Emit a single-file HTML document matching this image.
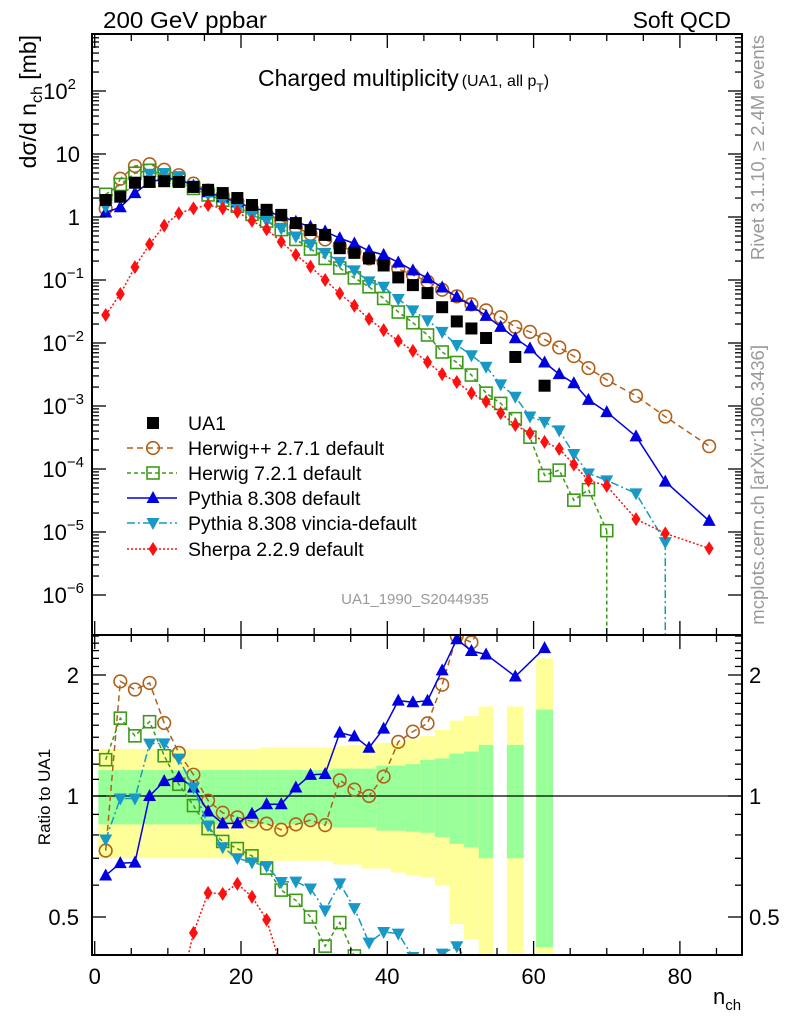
<!DOCTYPE html>
<html><head><meta charset="utf-8"><style>
html,body{margin:0;padding:0;background:#fff;width:786px;height:1024px;overflow:hidden}
svg{display:block;font-family:"Liberation Sans",sans-serif}
</style></head><body>
<svg id="chart" width="786" height="1024" viewBox="0 0 786 1024" xmlns="http://www.w3.org/2000/svg">
<defs>
<clipPath id="clipMain"><rect x="92" y="34" width="650" height="601"/></clipPath>
<clipPath id="clipRatio"><rect x="92" y="635" width="650" height="320"/></clipPath>
</defs>
<text x="103" y="28" font-size="23" textLength="164" lengthAdjust="spacingAndGlyphs">200 GeV ppbar</text>
<text x="731" y="28" font-size="23" text-anchor="end">Soft QCD</text>
<text x="258" y="86" font-size="23">Charged multiplicity<tspan font-size="16" dx="3">(UA1, all p</tspan><tspan font-size="12" dy="6">T</tspan><tspan font-size="16" dy="-6">)</tspan></text>
<text transform="translate(36,35) rotate(-90)" font-size="23" text-anchor="end">dσ/d n<tspan font-size="16" dy="6">ch</tspan><tspan dy="-6"> [mb]</tspan></text>
<text transform="translate(764,35) rotate(-90)" font-size="18.5" fill="#999" text-anchor="end">Rivet 3.1.10, ≥ 2.4M events</text>
<text transform="translate(764,345) rotate(-90)" font-size="18.5" fill="#999" text-anchor="end">mcplots.cern.ch [arXiv:1306.3436]</text>
<text x="415" y="604" font-size="15" fill="#999" text-anchor="middle">UA1_1990_S2044935</text>
<text transform="translate(50,797) rotate(-90)" font-size="17" text-anchor="middle">Ratio to UA1</text>
<text x="713" y="1004" font-size="22">n<tspan font-size="15" dy="6">ch</tspan></text>
<g id="bands" clip-path="url(#clipRatio)"></g>
<g id="mainMarks" clip-path="url(#clipMain)"></g>
<g id="ratioMarks" clip-path="url(#clipRatio)"></g>
<g id="axes"></g>
<g id="legend"></g>
</svg>
<script>
// ---- data ----
const ua1X = [1.5,3.5,5.5,7.5,9.5,11.5,13.5,15.5,17.5,19.5,21.5,23.5,25.5,27.5,29.5,31.5,33.5,35.5,37.5,39.5,41.5,43.5,45.5,47.5,49.5,51.5,53.5,57.5,61.5];
const ua1Y = [1.86,2.1,3.5,3.6,3.7,3.6,3.0,2.7,2.4,2.0,1.55,1.3,1.08,0.8,0.62,0.52,0.32,0.27,0.22,0.17,0.11,0.083,0.062,0.037,0.022,0.017,0.012,0.006,0.0021];
const totUp = [1.31,1.31,1.31,1.31,1.31,1.31,1.31,1.31,1.31,1.31,1.31,1.32,1.32,1.32,1.32,1.32,1.33,1.34,1.345,1.355,1.36,1.38,1.41,1.46,1.54,1.58,1.67,1.67,2.2];
const totDn = [0.70,0.70,0.70,0.70,0.70,0.70,0.70,0.70,0.70,0.70,0.70,0.69,0.69,0.69,0.69,0.69,0.675,0.675,0.66,0.66,0.645,0.635,0.626,0.60,0.48,0.44,0.35,0.35,0.405];
const statUp = [1.16,1.16,1.16,1.16,1.16,1.16,1.16,1.16,1.16,1.16,1.16,1.16,1.16,1.16,1.16,1.16,1.17,1.17,1.17,1.19,1.19,1.20,1.23,1.24,1.275,1.29,1.34,1.34,1.64];
const statDn = [0.85,0.85,0.85,0.85,0.85,0.85,0.85,0.85,0.85,0.85,0.85,0.85,0.85,0.85,0.85,0.85,0.835,0.835,0.835,0.82,0.82,0.815,0.81,0.79,0.76,0.745,0.70,0.70,0.42];
const mcX = [1.5,3.5,5.5,7.5,9.5,11.5,13.5,15.5,17.5,19.5,21.5,23.5,25.5,27.5,29.5,31.5,33.5,35.5,37.5,39.5,41.5,43.5,45.5,47.5,49.5,51.5,53.5,55.5,57.5,59.5,61.5,63.5,65.5,67.5,70,74,78,84];
const herwigppY = [1.36,4.05,6.44,6.88,5.62,4.61,3.39,2.63,2.18,1.77,1.34,1.11,0.89,0.68,0.54,0.44,0.35,0.28,0.22,0.19,0.15,0.12,0.094,0.070,0.055,0.041,0.033,0.0256,0.018,0.015,0.0114,0.0085,0.0062,0.0040,0.0026,0.00145,0.00068,0.00023];
const herwig7Y = [2.29,3.28,4.94,5.51,4.66,3.85,2.84,2.24,1.85,1.48,1.10,0.86,0.63,0.44,0.31,0.22,0.155,0.108,0.078,0.051,0.031,0.021,0.0134,0.0072,0.0049,0.0031,0.0016,0.0011,0.00063,0.00032,7.9e-5,9.6e-5,3.2e-5,4.7e-5,1.05e-5];
const pythiaY = [1.18,1.43,2.39,3.6,4.03,4.01,3.15,2.47,2.05,1.71,1.40,1.24,1.03,0.84,0.70,0.59,0.46,0.38,0.29,0.25,0.19,0.142,0.107,0.076,0.054,0.039,0.027,0.018,0.0119,0.0082,0.0049,0.0032,0.0023,0.00125,0.00080,0.00033,6.3e-5,1.5e-5];
const vinciaY = [1.45,2.07,3.45,4.86,5.0,4.46,3.15,2.28,1.79,1.40,1.06,0.87,0.66,0.49,0.365,0.27,0.194,0.142,0.095,0.078,0.050,0.033,0.023,0.015,0.0093,0.0064,0.0042,0.0022,0.0014,0.00068,0.00056,0.00041,0.000173,8.5e-5,6.6e-5,4.1e-5,6.9e-6];
const sherpaY = [0.0278,0.06,0.16,0.37,0.73,1.14,1.37,1.55,1.37,1.21,0.87,0.64,0.405,0.25,0.163,0.1,0.061,0.039,0.024,0.016,0.0108,0.0075,0.0050,0.0032,0.0024,0.0016,0.00118,0.00077,0.00050,0.00037,0.00027,0.000209,0.000118,6.6e-5,5.4e-5,1.6e-5,9.5e-6,5.5e-6];
const xTicks = [0,20,40,60,80];
const yDecades = [-6,-5,-4,-3,-2,-1,0,1,2];
const ratioTicks = [0.5,1,2];

// ---- scales ----
const NS="http://www.w3.org/2000/svg";
const L=92,R=742,MT=34,MB=635,RB=955;
const xp = v => 94.7 + 7.315*v;
const ym = v => 217 - 63*Math.log10(v);
const yr = r => 796 - 121*Math.log2(r);
function mk(tag, attrs, parent){const e=document.createElementNS(NS,tag);for(const k in attrs)e.setAttribute(k,attrs[k]);parent.appendChild(e);return e;}

const series = [
 {key:'herwigpp', y:herwigppY, color:'#b0601a', dash:'6,4', marker:'circle', label:'Herwig++ 2.7.1 default'},
 {key:'herwig7', y:herwig7Y, color:'#3d9a18', dash:'4,3', marker:'square', label:'Herwig 7.2.1 default', drop:true},
 {key:'pythia', y:pythiaY, color:'#0000e0', dash:'', marker:'up', label:'Pythia 8.308 default'},
 {key:'vincia', y:vinciaY, color:'#1898c4', dash:'8,3,2,3', marker:'down', label:'Pythia 8.308 vincia-default', drop:true},
 {key:'sherpa', y:sherpaY, color:'#ff1010', dash:'2,2', marker:'diamond', label:'Sherpa 2.2.9 default'}
];

function marker(g, type, cx, cy, color){
  let e;
  if(type==='circle') e=mk('circle',{cx:cx,cy:cy,r:6.3,fill:'none',stroke:color,'stroke-width':1.6},g);
  else if(type==='square') e=mk('rect',{x:cx-6,y:cy-6,width:12,height:12,fill:'none',stroke:color,'stroke-width':1.6},g);
  else if(type==='up') e=mk('polygon',{points:`${cx-6.5},${cy+5} ${cx+6.5},${cy+5} ${cx},${cy-7}`,fill:color},g);
  else if(type==='down') e=mk('polygon',{points:`${cx-6.5},${cy-5} ${cx+6.5},${cy-5} ${cx},${cy+7}`,fill:color},g);
  else if(type==='diamond') e=mk('polygon',{points:`${cx},${cy-7} ${cx+4.5},${cy} ${cx},${cy+7} ${cx-4.5},${cy}`,fill:color},g);
  else e=mk('rect',{x:cx-6,y:cy-6,width:12,height:12,fill:color},g);
  return e;
}

// ---- bands ----
const gb=document.getElementById('bands');
ua1X.forEach((x,i)=>{
  const w = i>=27 ? 1.15 : 1;
  const y1=mk('rect',{x:xp(x-w),y:yr(totUp[i]),width:xp(x+w)-xp(x-w),height:yr(totDn[i])-yr(totUp[i]),fill:'#ffff99'},gb);
  
  
  const g1=mk('rect',{x:xp(x-w),y:yr(statUp[i]),width:xp(x+w)-xp(x-w),height:yr(statDn[i])-yr(statUp[i]),fill:'#99ff99'},gb);
  
  
});
const one=mk('line',{x1:L,x2:R,y1:yr(1),y2:yr(1),stroke:'#000','stroke-width':1.3},gb);



// ---- main panel ----
const gm=document.getElementById('mainMarks');
const gr=document.getElementById('ratioMarks');
series.forEach(s=>{
  const pts=s.y.map((v,i)=>`${xp(mcX[i]).toFixed(1)},${ym(v).toFixed(1)}`).join(' ');
  const pl=mk('polyline',{points:pts,fill:'none',stroke:s.color,'stroke-width':1.5,'stroke-dasharray':s.dash},gm);
  
  
  if(s.drop){
    const n=s.y.length-1;
    const d=mk('line',{x1:xp(mcX[n]),x2:xp(mcX[n]),y1:ym(s.y[n]),y2:MB,stroke:s.color,'stroke-width':1.5,'stroke-dasharray':s.dash},gm);
    
    
  }
  s.y.forEach((v,i)=>{
    const m=marker(gm,s.marker,xp(mcX[i]),ym(v),s.color);
    
    
  });
  const rp=[];
  ua1X.forEach((x,i)=>{const j=mcX.indexOf(x); if(j>=0&&j<s.y.length) rp.push([x,s.y[j]/ua1Y[i]]);});
  const rl=mk('polyline',{points:rp.map(p=>`${xp(p[0]).toFixed(1)},${yr(p[1]).toFixed(1)}`).join(' '),fill:'none',stroke:s.color,'stroke-width':1.5,'stroke-dasharray':s.dash},gr);
  
  
  rp.forEach(p=>{
    const m=marker(gr,s.marker,xp(p[0]),yr(p[1]),s.color);
    
    
  });
});
ua1X.forEach((x,i)=>{
  const m=marker(gm,'filled',xp(x),ym(ua1Y[i]),'#000');
  
  
});

// ---- axes ----
const ga=document.getElementById('axes');
const fr=mk('rect',{x:L,y:MT,width:R-L,height:RB-MT,fill:'none',stroke:'#000','stroke-width':2},ga);


const sep=mk('line',{x1:L,x2:R,y1:MB,y2:MB,stroke:'#000','stroke-width':2},ga);


function tick(x1,y1,x2,y2){mk('line',{x1:x1,y1:y1,x2:x2,y2:y2,stroke:'#000','stroke-width':1.3},ga);}
for(let v=0;v<=88;v+=5){
  const X=xp(v), len=(v%20===0)?14:7;
  tick(X,MT,X,MT+len); tick(X,MB,X,MB-len); tick(X,MB,X,MB+len); tick(X,RB,X,RB-len);
}
xTicks.forEach(v=>{
  const t=mk('text',{x:xp(v),y:984,'font-size':22,'text-anchor':'middle'},ga);
  t.textContent=v;
  
  
});
yDecades.forEach(d=>{
  for(let m=1;m<10;m++){
    const Y=ym(m*Math.pow(10,d)); if(Y<MT||Y>MB) continue;
    const len=m===1?14:7;
    tick(L,Y,L+len,Y); tick(R,Y,R-len,Y);
  }
  const Y=ym(Math.pow(10,d));
  const t=mk('text',{x:80,y:Y+8,'font-size':22,'text-anchor':'end'},ga);
  
  
  if(d===0) t.textContent='1';
  else if(d===1) t.textContent='10';
  else { t.textContent='10'; const s=mk('tspan',{'font-size':15,dy:-10},t); s.textContent=(d<0?'−':'')+Math.abs(d); t.setAttribute('x',d<0?84:76); }
});
[0.5,0.6,0.7,0.8,0.9,1,1.1,1.2,1.3,1.4,1.5,1.6,1.7,1.8,1.9,2,2.1,2.2,2.3,2.4,2.5].forEach(r=>{
  const Y=yr(r), len=(r===0.5||r===1||r===2)?14:7;
  tick(L,Y,L+len,Y); tick(R,Y,R-len,Y);
});
ratioTicks.forEach(r=>{
  const a=mk('text',{x:79,y:yr(r)+8,'font-size':22,'text-anchor':'end'},ga);
  a.textContent=String(r);
  
  
  const b=mk('text',{x:749,y:yr(r)+8,'font-size':22},ga);
  b.textContent=String(r);
  
  
});

// ---- legend ----
const gl=document.getElementById('legend');
const legY=[423,448,473,498,523,549];
const ua1e=marker(gl,'filled',153,legY[0],'#000');


const lt=mk('text',{x:188,y:legY[0]+7,'font-size':19.5},gl);
lt.textContent='UA1';


series.forEach((s,i)=>{
  const y=legY[i+1];
  const ln=mk('line',{x1:127,x2:177,y1:y,y2:y,stroke:s.color,'stroke-width':1.5,'stroke-dasharray':s.dash},gl);
  
  
  const m=marker(gl,s.marker,153,y,s.color);
  
  
  const t=mk('text',{x:188,y:y+7,'font-size':19.5},gl);
  t.textContent=s.label;
  
  
});
</script>
</body></html>
